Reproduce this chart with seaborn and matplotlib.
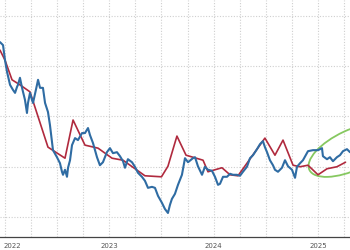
import numpy as np
import pandas as pd
import matplotlib
matplotlib.use("Agg")
import matplotlib.pyplot as plt
import seaborn as sns
from matplotlib.patches import Ellipse
from matplotlib.transforms import ScaledTranslation, blended_transform_factory

# ---- data (x in decimal years, y in chart units) ----
blue_x = [2022.455, 2022.484, 2022.503, 2022.522, 2022.551, 2022.579, 2022.599, 2022.618, 2022.627,
          2022.646, 2022.666, 2022.694, 2022.713, 2022.723, 2022.742, 2022.761, 2022.771, 2022.809,
          2022.819, 2022.838, 2022.866, 2022.886, 2022.914, 2022.933, 2022.962, 2023.000, 2023.029,
          2023.048, 2023.058, 2023.077, 2023.096, 2023.106, 2023.125, 2023.144, 2023.173, 2023.201,
          2023.240, 2023.268, 2023.297, 2023.316, 2023.345, 2023.383, 2023.411, 2023.440, 2023.478,
          2023.507, 2023.536, 2023.574, 2023.603, 2023.632, 2023.651, 2023.679, 2023.718, 2023.746,
          2023.775, 2023.813, 2023.842, 2023.871, 2023.909, 2023.938, 2023.967, 2024.005, 2024.033,
          2024.062, 2024.081, 2024.100, 2024.129, 2024.158, 2024.196, 2024.225, 2024.254, 2024.301,
          2024.321, 2024.349, 2024.388, 2024.416, 2024.445, 2024.483, 2024.512, 2024.541, 2024.560,
          2024.589, 2024.627, 2024.656, 2024.684, 2024.722, 2024.751, 2024.780, 2024.818, 2024.847,
          2024.876, 2024.914, 2024.943, 2024.971, 2024.990, 2025.010, 2025.038, 2025.067, 2025.086,
          2025.115, 2025.153, 2025.182, 2025.211, 2025.249, 2025.278, 2025.297, 2025.326, 2025.354,
          2025.402, 2025.450, 2025.498, 2025.536, 2025.545, 2025.584, 2025.612, 2025.641, 2025.679,
          2025.708, 2025.737, 2025.775, 2025.804]
blue_y = [4.48, 4.42, 4.12, 3.89, 3.63, 3.53, 3.47, 3.59, 3.63,
          3.77, 3.57, 3.33, 3.07, 3.27, 3.47, 3.33, 3.27, 3.63,
          3.73, 3.57, 3.57, 3.27, 3.09, 2.83, 2.33, 2.19, 2.07,
          1.90, 1.84, 1.94, 1.80, 1.98, 2.13, 2.43, 2.57, 2.53,
          2.67, 2.67, 2.77, 2.63, 2.47, 2.19, 2.03, 2.09, 2.29,
          2.37, 2.27, 2.29, 2.21, 2.11, 1.98, 2.15, 2.09, 2.00,
          1.88, 1.80, 1.72, 1.58, 1.60, 1.58, 1.42, 1.28, 1.16,
          1.08, 1.24, 1.36, 1.46, 1.64, 1.84, 2.17, 2.09, 2.17,
          2.19, 2.01, 1.84, 2.00, 1.94, 1.92, 1.80, 1.64, 1.66,
          1.80, 1.80, 1.86, 1.84, 1.84, 1.82, 1.90, 2.00, 2.17,
          2.23, 2.35, 2.45, 2.51, 2.39, 2.29, 2.13, 2.03, 1.94,
          1.90, 1.98, 2.13, 2.01, 1.94, 1.78, 2.00, 2.07, 2.13,
          2.31, 2.33, 2.33, 2.37, 2.21, 2.15, 2.19, 2.11, 2.19,
          2.23, 2.31, 2.35, 2.29]

red_x = [2022.455, 2022.503, 2022.570, 2022.646, 2022.742, 2022.914, 2023.077, 2023.154,
         2023.268, 2023.393, 2023.527, 2023.632, 2023.842, 2024.000, 2024.062, 2024.148,
         2024.235, 2024.398, 2024.445, 2024.579, 2024.656, 2024.732, 2024.990, 2025.086,
         2025.163, 2025.259, 2025.326, 2025.402, 2025.498, 2025.584, 2025.679, 2025.761]
red_y = [4.32, 4.12, 3.73, 3.63, 3.49, 2.39, 2.17, 2.93,
         2.43, 2.37, 2.17, 2.13, 1.82, 1.80, 2.01, 2.61,
         2.23, 2.13, 1.90, 1.98, 1.84, 1.82, 2.57, 2.23,
         2.53, 2.03, 2.00, 2.03, 1.84, 1.96, 2.00, 2.09]

year_labels = ["2022", "2023", "2024", "2025"]
year_label_pos = [2022.575, 2023.5, 2024.5, 2025.5]
year_bounds = [2023, 2024, 2025]

blue_df = pd.DataFrame({"t": blue_x, "v": blue_y})
red_df = pd.DataFrame({"t": red_x, "v": red_y})

sns.set_style("white")
fig = plt.figure(figsize=(3.5, 2.5), dpi=100)
ax = fig.add_axes([0, 13 / 250, 1, 237 / 250])

sns.lineplot(data=red_df, x="t", y="v", ax=ax, color="#b02a3e", linewidth=1.2)
sns.lineplot(data=blue_df, x="t", y="v", ax=ax, color="#2f6ca3", linewidth=1.5)

ax.set_xlim(2022.455, 2025.804)
ax.set_ylim(0.602, 5.318)

# grid
ax.set_yticks([1, 2, 3, 4, 5])
ax.set_xticks(year_bounds)
quarters = [2022.5, 2022.75, 2023.25, 2023.5, 2023.75, 2024.25, 2024.5, 2024.75,
            2025.25, 2025.5, 2025.75]
for q in quarters + year_bounds:
    ax.axvline(q, color="#cfcfcf", linestyle=(0, (1, 1.5)), linewidth=0.8, zorder=0)
for yv in [1, 2, 3, 4, 5]:
    ax.axhline(yv, color="#cfcfcf", linestyle=(0, (1, 1.5)), linewidth=0.8, zorder=0)

months = [2022 + m / 12 for m in range(6, 12)] + [2023 + m / 12 for m in range(1, 12)] + \
         [2024 + m / 12 for m in range(1, 12)] + [2025 + m / 12 for m in range(1, 10)]
ax.set_xticks(months, minor=True)
ax.tick_params(axis="x", which="major", length=9.5, width=0.7, color="#555555",
               direction="out", labelbottom=False)
ax.tick_params(axis="x", which="minor", length=2.5, width=0.7, color="#555555",
               direction="inout")
ax.tick_params(axis="y", left=False, labelleft=False)
ax.set_xlabel("")
ax.set_ylabel("")

for s in ["top", "right", "left"]:
    ax.spines[s].set_visible(False)
ax.spines["bottom"].set_color("#444444")
ax.spines["bottom"].set_linewidth(0.9)

trans = blended_transform_factory(ax.transData, ax.transAxes)
for lab, pos in zip(year_labels, year_label_pos):
    ax.text(pos, -0.038, lab, transform=trans, ha="center", va="center",
            fontsize=5, color="#555555", clip_on=False)

# green ellipse highlight
etrans = fig.dpi_scale_trans + ScaledTranslation(2025.823, 2.333, ax.transData)
ell = Ellipse((0, 0), width=0.94, height=0.40, angle=25, transform=etrans,
              fill=False, edgecolor="#86c860", linewidth=1.3, clip_on=False)
ax.add_patch(ell)

fig.savefig("out.png", dpi=100)
